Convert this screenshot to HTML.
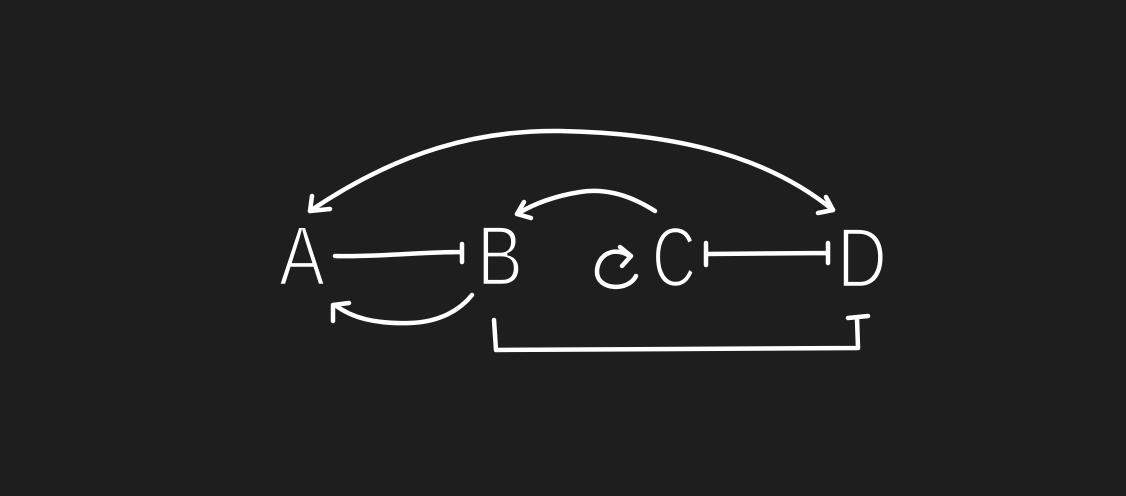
<!DOCTYPE html>
<html><head><meta charset="utf-8"><style>
html,body{margin:0;padding:0;background:#1e1e1e;}
svg{display:block}
text{font-family:"Liberation Sans",sans-serif;fill:#fff;stroke:#1e1e1e;stroke-width:2.5;}
</style></head><body>
<svg width="1126" height="496" viewBox="0 0 1126 496">
<rect width="1126" height="496" fill="#1e1e1e"/>
<g fill="none" stroke="#fff" stroke-width="4.5" stroke-linecap="round" stroke-linejoin="round">
  <path d="M310,211 C400,150 480,130 560,131 C660,133 760,150 833,210"/>
  <path d="M312,196 L310,211 L330,209"/>
  <path d="M826,197 L833,210 L818,213"/>
  <path d="M335,256 C380,257 420,252 462,252 M462,244 L462,262"/>
  <path d="M706,254 C750,254 790,253 828,253 M706,243 L706,265 M828,243 L828,263"/>
  <path d="M655,211 C630,195 605,188 580,192 C555,196 535,203 517,214"/>
  <path d="M524,202 L517,214 L531,218"/>
  <path d="M472,295 C460,310 440,322 410,323 C375,324 352,318 335,305"/>
  <path d="M333,321 L333,305 L349,303"/>
  <path d="M494,320 L496,350 L858,348 L857,318 M848,318 L868,316"/>
  <path d="M628,255 C612,246 597,256 597,272 C597,290 628,292 636,276"/>
  <path d="M620,247 L631,256 L622,266"/>
</g>
<g transform="translate(302,0) scale(0.82,1)"><text x="0" y="285" font-size="84" text-anchor="middle">A</text></g>
<g transform="translate(500,0) scale(0.82,1)"><text x="0" y="285" font-size="84" text-anchor="middle">B</text></g>
<g transform="translate(674,0) scale(0.72,1)"><text x="0" y="286" font-size="84" text-anchor="middle">C</text></g>
<g transform="translate(862,0) scale(0.82,1)"><text x="0" y="287" font-size="84" text-anchor="middle">D</text></g>
</svg>
</body></html>
